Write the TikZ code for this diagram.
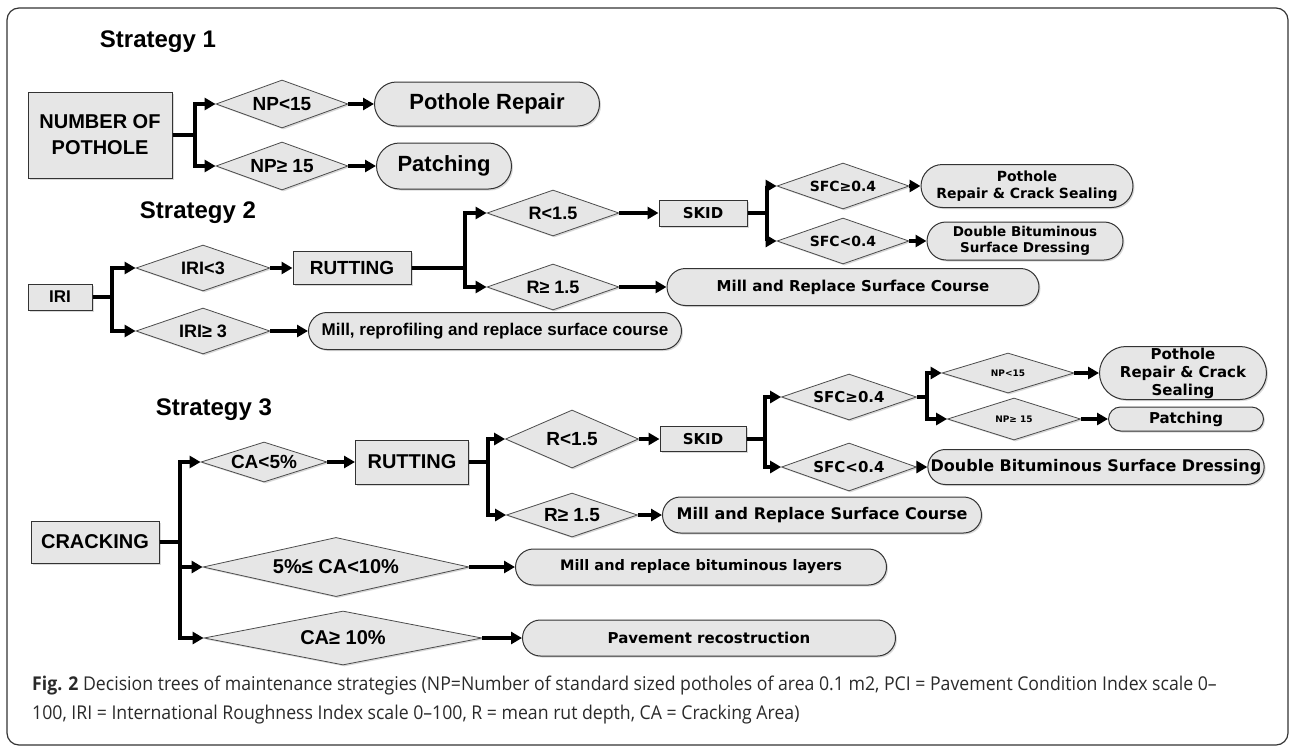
\documentclass[tikz,border=0pt]{standalone}
\usepackage{fontspec}
\setmainfont{Liberation Sans}
\newfontfamily\wfont{DejaVu Sans}
\newfontfamily\capfont[FakeStretch=0.93]{Open Sans}
\usepackage{xcolor}
\usetikzlibrary{positioning,calc,shapes.geometric,shapes.misc,arrows.meta,shadows}
\definecolor{boxfill}{HTML}{E6E6E6}
\definecolor{capgray}{HTML}{2A2A2A}
\newcommand\fsz[2]{\fontsize{#1}{#2}\selectfont}

\tikzset{
  conn/.style={line width=3.2pt, -{Triangle[length=11pt,width=12pt]}},
  shade/.style={drop shadow={opacity=0.3,shadow xshift=1.5pt,shadow yshift=-1.5pt}},
  wh/.style 2 args={minimum width=#1pt, minimum height=#2pt},
  boxnode/.style={rectangle, draw=black!80, line width=1pt, fill=boxfill, shade, inner sep=1pt, align=center, font=\bfseries},
  decision/.style={diamond, aspect=2.8, draw=black!70, line width=0.8pt, fill=boxfill, shade, inner sep=0pt, font=\bfseries},
  outcome/.style={rounded rectangle, draw=black!80, line width=1pt, fill=boxfill, shade, inner sep=1pt, align=center, font=\bfseries},
  heading/.style={font=\bfseries\fsz{24}{26}},
}

\begin{document}
\begin{tikzpicture}[x=1pt,y=-1pt]
  \useasboundingbox (0,0) rectangle (1290,747);
  \draw[black!80, line width=1.2pt, rounded corners=12pt] (7,8) rectangle (1288,745);

  % strategy 1
  \node[heading] (t1) at (158,42) {Strategy 1};
  \node[boxnode, wh={144}{86}, font=\bfseries\fsz{20}{26}] (nop) at (100,135) {NUMBER OF\\POTHOLE};
  \coordinate (b1) at (195,0);
  \node[decision, wh={132}{48}, font=\bfseries\fsz{19}{20}] (np1) at (282,104) {NP<15};
  \node[decision, wh={132}{48}, font=\bfseries\fsz{19}{20}] (np2) at (282,166) {NP≥ 15};
  \node[outcome, wh={227}{44}, font=\bfseries\fsz{22}{23}] (rep1) at (487,104) {Pothole Repair};
  \node[outcome, wh={137}{46}, font=\bfseries\fsz{22}{23}] (pat1) at (444,166) {Patching};

  \draw[conn] (nop.east) -- (nop.east -| b1) |- (np1.west);
  \draw[conn] (nop.east) -- (nop.east -| b1) |- (np2.west);
  \draw[conn] (np1.east) -- (rep1.west);
  \draw[conn] (np2.east) -- (pat1.west);

  % strategy 2
  \node[heading] (t2) at (198,213) {Strategy 2};
  \node[boxnode, wh={64}{26}, font=\bfseries\fsz{17}{18}] (iri) at (60,297) {IRI};
  \coordinate (b2) at (112,0);
  \node[decision, wh={134}{46}, font=\bfseries\fsz{18}{20}] (iri1) at (203,268) {IRI<3};
  \node[decision, wh={134}{46}, font=\bfseries\fsz{18}{20}] (iri2) at (203,331) {IRI≥ 3};
  \node[boxnode, wh={118}{33}, font=\bfseries\fsz{19}{20}] (rut2) at (352,268) {RUTTING};
  \node[outcome, wh={375}{37}, font=\bfseries\fsz{17}{18}] (mrs2) at (495,331) {Mill, reprofiling and replace surface course};
  \coordinate (b3) at (465,0);
  \node[decision, wh={132}{46}, font=\bfseries\fsz{18}{19}] (r1) at (553,213) {R<1.5};
  \node[decision, wh={132}{46}, font=\bfseries\fsz{18}{19}] (r2) at (553,287) {R≥ 1.5};
  \node[boxnode, wh={88}{26}, font=\wfont\bfseries\fsz{15}{16}] (skid2) at (703,213) {SKID};
  \node[outcome, wh={374}{37}, font=\wfont\bfseries\fsz{15}{16}] (mrc2) at (853,287) {Mill and Replace Surface Course};
  \coordinate (b4) at (767,0);
  \node[decision, wh={132}{46}, font=\wfont\bfseries\fsz{14}{15}] (sfc1) at (843,186) {SFC≥0.4};
  \node[decision, wh={132}{46}, font=\wfont\bfseries\fsz{14}{15}] (sfc2) at (843,241) {SFC<0.4};
  \node[outcome, wh={214}{43}, font=\wfont\bfseries\fsz{14}{17}] (prc2) at (1027,186) {Pothole\\Repair \& Crack Sealing};
  \node[outcome, wh={198}{38}, font=\wfont\bfseries\fsz{13.5}{16}] (dbs2) at (1025,241) {Double Bituminous\\Surface Dressing};

  \draw[conn] (iri.east) -- (iri.east -| b2) |- (iri1.west);
  \draw[conn] (iri.east) -- (iri.east -| b2) |- (iri2.west);
  \draw[conn] (iri1.east) -- (rut2.west);
  \draw[conn] (iri2.east) -- (mrs2.west);
  \draw[conn] (rut2.east) -- (rut2.east -| b3) |- (r1.west);
  \draw[conn] (rut2.east) -- (rut2.east -| b3) |- (r2.west);
  \draw[conn] (r1.east) -- (skid2.west);
  \draw[conn] (r2.east) -- (mrc2.west);
  \draw[conn] (skid2.east) -- (skid2.east -| b4) |- (sfc1.west);
  \draw[conn] (skid2.east) -- (skid2.east -| b4) |- (sfc2.west);
  \draw[conn] (sfc1.east) -- (prc2.west);
  \draw[conn] (sfc2.east) -- (dbs2.west);

  % strategy 3
  \node[heading] (t3) at (214,410) {Strategy 3};
  \node[boxnode, wh={128}{42}, font=\bfseries\fsz{20}{22}] (crk) at (95,542) {CRACKING};
  \coordinate (b5) at (180,0);
  \node[decision, wh={126}{40}, font=\bfseries\fsz{19}{20}] (ca1) at (264,462) {CA<5\%};
  \node[boxnode, wh={113}{44}, font=\bfseries\fsz{20}{22}] (rut3) at (412,462) {RUTTING};
  \node[decision, wh={266}{58}, font=\bfseries\fsz{20}{22}] (ca2) at (336,567) {5\%≤ CA<10\%};
  \node[decision, wh={278}{54}, font=\bfseries\fsz{20}{22}] (ca3) at (343,638) {CA≥ 10\%};
  \node[outcome, wh={373}{36}, font=\wfont\bfseries\fsz{14.5}{15}] (mrb) at (701,567) {Mill and replace bituminous layers};
  \node[outcome, wh={375}{36}, font=\wfont\bfseries\fsz{15}{16}] (pav) at (709,638) {Pavement recostruction};
  \coordinate (b6) at (488,0);
  \node[decision, wh={133}{58}, font=\bfseries\fsz{19}{20}] (r3) at (572,439) {R<1.5};
  \node[decision, wh={131}{44}, font=\bfseries\fsz{19}{20}] (r4) at (572,515) {R≥ 1.5};
  \node[boxnode, wh={86}{25}, font=\wfont\bfseries\fsz{15}{16}] (skid3) at (703,439) {SKID};
  \node[outcome, wh={321}{36}, font=\wfont\bfseries\fsz{16}{17}] (mrc3) at (822,515) {Mill and Replace Surface Course};
  \coordinate (b7) at (765,0);
  \node[decision, wh={135}{46}, font=\wfont\bfseries\fsz{15}{16}] (sfc3) at (849,397) {SFC≥0.4};
  \node[decision, wh={135}{48}, font=\wfont\bfseries\fsz{15}{16}] (sfc4) at (849,467) {SFC<0.4};
  \coordinate (b8) at (927,0);
  \node[decision, wh={132}{40}, font=\wfont\bfseries\fsz{9}{10}] (np3) at (1008,373) {NP<15};
  \node[decision, wh={133}{42}, font=\wfont\bfseries\fsz{9}{10}] (np4) at (1014,419) {NP≥ 15};
  \node[outcome, wh={169}{53}, font=\wfont\bfseries\fsz{15}{18}] (prc3) at (1183,373) {Pothole\\Repair \& Crack\\Sealing};
  \node[outcome, wh={157}{24}, font=\wfont\bfseries\fsz{15}{16}] (pat3) at (1186,419) {Patching};
  \node[outcome, wh={312}{35}, font=\wfont\bfseries\fsz{16}{17}] (dbs3) at (1096,467) {Double Bituminous Surface Dressing};

  \draw[conn] (crk.east) -- (crk.east -| b5) |- (ca1.west);
  \draw[conn] (crk.east) -- (crk.east -| b5) |- (ca2.west);
  \draw[conn] (crk.east) -- (crk.east -| b5) |- (ca3.west);
  \draw[conn] (ca1.east) -- (rut3.west);
  \draw[conn] (ca2.east) -- (mrb.west);
  \draw[conn] (ca3.east) -- (pav.west);
  \draw[conn] (rut3.east) -- (rut3.east -| b6) |- (r3.west);
  \draw[conn] (rut3.east) -- (rut3.east -| b6) |- (r4.west);
  \draw[conn] (r3.east) -- (skid3.west);
  \draw[conn] (r4.east) -- (mrc3.west);
  \draw[conn] (skid3.east) -- (skid3.east -| b7) |- (sfc3.west);
  \draw[conn] (skid3.east) -- (skid3.east -| b7) |- (sfc4.west);
  \draw[conn] (sfc4.east) -- (dbs3.west);
  \draw[conn] (sfc3.east) -- (sfc3.east -| b8) |- (np3.west);
  \draw[conn] (sfc3.east) -- (sfc3.east -| b8) |- (np4.west);
  \draw[conn] (np3.east) -- (prc3.west);
  \draw[conn] (np4.east) -- (pat3.west);

  % caption
  \node[anchor=base west, inner sep=0pt, text=capgray, font=\capfont\fsz{19}{20}] (cap1) at (32,690) {\textbf{Fig. 2} Decision trees of maintenance strategies (NP=Number of standard sized potholes of area 0.1 m2, PCI = Pavement Condition Index scale 0–};
  \node[anchor=base west, inner sep=0pt, text=capgray, font=\capfont\fsz{19}{20}] (cap2) at (32,719) {100, IRI = International Roughness Index scale 0–100, R = mean rut depth, CA = Cracking Area)};
\end{tikzpicture}
\end{document}
